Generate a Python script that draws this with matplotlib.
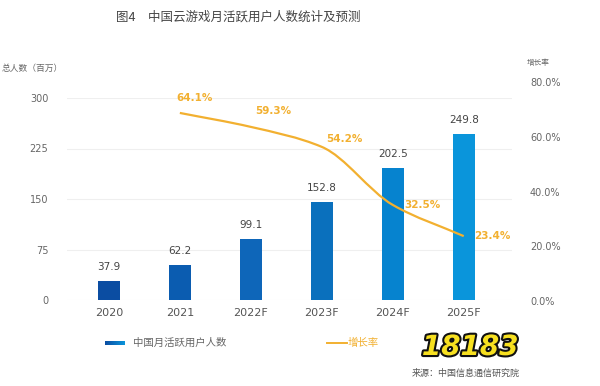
import matplotlib
matplotlib.use("Agg")
import matplotlib.pyplot as plt
import numpy as np
from matplotlib.path import Path
from matplotlib.patches import PathPatch
from matplotlib.colors import LinearSegmentedColormap
import matplotlib.patheffects as pe

plt.rcParams['font.family'] = ['Noto Sans CJK SC', 'DejaVu Sans']

# ---- data ----
categories = ["2020", "2021", "2022F", "2023F", "2024F", "2025F"]
bar_heights = [28, 52, 90, 145, 196, 247]          # drawn heights
bar_labels = ["37.9", "62.2", "99.1", "152.8", "202.5", "249.8"]
growth_idx = [1, 2, 3, 4, 5]
growth_values = [68.7, 63.6, 56.3, 35.1, 23.7]     # line positions (%)
growth_labels = ["64.1%", "59.3%", "54.2%", "32.5%", "23.4%"]
left_ticks = [0, 75, 150, 225, 300]
right_ticks = [0, 20, 40, 60, 80]

bar_colors = ['#0b4da2', '#0b5cb0', '#0e66b9', '#0a70bd', '#0683cf', '#0a95db']
orange = '#f2b030'
W, H = 600, 386

fig = plt.figure(figsize=(6, 3.86), dpi=100)

def fx(px):
    return px / W

def fy(py):
    return 1 - py / H

# main axes
ax = fig.add_axes([fx(67), fy(300), fx(512) - fx(67), (300 - 98) / H])
x = np.arange(len(categories))
XL = (-0.59, 5.68)
ax.set_xlim(*XL)
ax.set_ylim(0, 300)
ax.bar(x, bar_heights, width=0.31, color=bar_colors, zorder=2)
for xi, h, lab in zip(x, bar_heights, bar_labels):
    ax.annotate(lab, (xi, h), xytext=(0, 14), textcoords='offset pixels',
                ha='center', va='center', fontsize=7.5, color='#444444',
                family=['DejaVu Sans'])
ax.set_yticks(left_ticks)
ax.set_yticklabels([str(t) for t in left_ticks], family=['DejaVu Sans'])
ax.tick_params(axis='y', length=0, pad=13.5, labelsize=7, labelcolor='#666666')
ax.set_xticks(x)
ax.set_xticklabels(categories, family=['DejaVu Sans'])
ax.tick_params(axis='x', length=0, pad=6, labelsize=8, labelcolor='#555555')
ax.grid(axis='y', color='#efefef', linewidth=0.8, zorder=0)
for s in ax.spines.values():
    s.set_visible(False)
ax.set_facecolor('none')

# right axes: 0% at 301px, 80% at 82px
ax2 = fig.add_axes([fx(67), fy(301), fx(512) - fx(67), (301 - 82) / H])
ax2.set_xlim(*XL)
ax2.set_ylim(0, 80)
ax2.patch.set_alpha(0)
ax2.set_xticks([])
ax2.yaxis.tick_right()
ax2.set_yticks(right_ticks)
ax2.set_yticklabels([f"{t:.1f}%" for t in right_ticks], family=['DejaVu Sans'])
ax2.tick_params(axis='y', length=0, pad=13, labelsize=7, labelcolor='#666666')
for s in ax2.spines.values():
    s.set_visible(False)

# smooth line: monotone cubic (Fritsch-Carlson) tangents -> cubic Bezier path
gx = np.array(growth_idx, float)
gy = np.array(growth_values, float)
n = len(gx)
h = np.diff(gx)
d = np.diff(gy) / h
m = np.zeros(n)
m[0], m[-1] = d[0], d[-1]
for i in range(1, n - 1):
    if d[i - 1] * d[i] <= 0:
        m[i] = 0
    else:
        m[i] = 2 * d[i - 1] * d[i] / (d[i - 1] + d[i])
verts = [(gx[0], gy[0])]
codes = [Path.MOVETO]
for i in range(n - 1):
    verts += [(gx[i] + h[i] / 3, gy[i] + m[i] * h[i] / 3),
              (gx[i + 1] - h[i] / 3, gy[i + 1] - m[i + 1] * h[i] / 3),
              (gx[i + 1], gy[i + 1])]
    codes += [Path.CURVE4] * 3
ax2.add_patch(PathPatch(Path(verts, codes), facecolor='none', edgecolor=orange,
                        linewidth=1.6, zorder=3))

label_offsets = [(15, 15), (22, 16), (23, 8), (30, 0), (29, 0)]
for xi, yi, lab, off in zip(growth_idx, growth_values, growth_labels, label_offsets):
    ax2.annotate(lab, (xi, yi), xytext=off, textcoords='offset pixels',
                 ha='center', va='center', fontsize=7.5, fontweight='bold',
                 color=orange, family=['DejaVu Sans'])

# title & axis titles
fig.text(fx(238), fy(17), "图4　中国云游戏月活跃用户人数统计及预测", ha='center', va='center',
         fontsize=9, color='#444444')
fig.text(fx(2), fy(68), "总人数（百万）", ha='left', va='center', fontsize=6.3, color='#666666')
fig.text(fx(527), fy(63), "增长率", ha='left', va='center', fontsize=5.5, color='#666666')

# legend
lax = fig.add_axes([fx(105), fy(345), fx(20), 4 / H])
grad = np.linspace(0, 1, 50).reshape(1, -1)
cmap = LinearSegmentedColormap.from_list('g', ['#0b4da2', '#0a95db'])
lax.imshow(grad, aspect='auto', cmap=cmap)
lax.axis('off')
fig.text(fx(133), fy(343), "中国月活跃用户人数", ha='left', va='center', fontsize=7.5, color='#666666')
fig.add_artist(plt.Line2D([fx(327), fx(347)], [fy(343), fy(343)], color=orange, linewidth=1.4))
fig.text(fx(348), fy(343), "增长率", ha='left', va='center', fontsize=7.5, color=orange)

# watermark & source
fig.text(fx(470), fy(347), "18183", ha='center', va='center', fontsize=20, fontweight='bold',
         color='#f7e020', family=['DejaVu Sans'], style='italic',
         path_effects=[pe.withStroke(linewidth=3, foreground='#111111')])
fig.text(fx(520), fy(373), "来源：中国信息通信研究院", ha='right', va='center', fontsize=6.5,
         color='#555555')

fig.savefig("out.png", dpi=100)
